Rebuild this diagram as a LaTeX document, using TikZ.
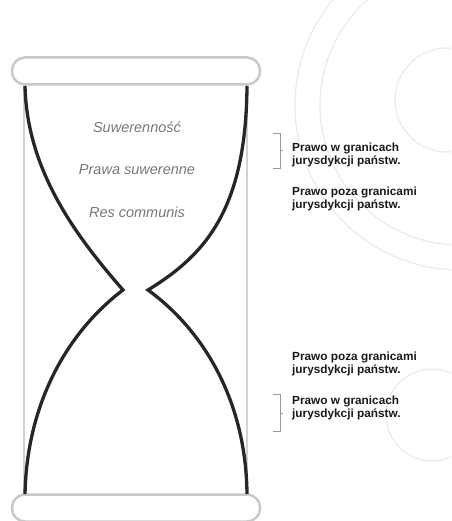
\documentclass[tikz,border=0pt]{standalone}
\usepackage{fontspec}
\setmainfont{Liberation Sans}
\usepackage{tikz}
\usetikzlibrary{
	arrows.meta,
	positioning,
	calc
}
\usepackage{xcolor}
\definecolor{capgray}{HTML}{C9C9C9}
\definecolor{framegray}{HTML}{D2D2D2}
\definecolor{glassline}{HTML}{262626}
\definecolor{textgray}{HTML}{777777}
\definecolor{ringgray}{HTML}{EBEBEB}

\tikzset{
	glasscap/.style={draw=capgray, line width=2.5pt, fill=white, rounded corners=13pt,
		minimum width=248pt, minimum height=27pt, inner sep=0pt},
	glassframe/.style={draw=framegray, line width=2pt},
	glass/.style={draw=glassline, line width=3.3pt, line join=miter},
	inside/.style={font=\fontsize{14.5}{17}\selectfont\itshape, text=textgray, inner sep=0pt},
	note/.style={font=\fontsize{11.8}{12.2}\selectfont\bfseries, text=black!90,
		align=left, anchor=west, inner sep=0pt},
	brace/.style={draw=gray!80, line width=0.8pt},
	ring/.style={draw=ringgray, line width=1.3pt}
}

\begin{document}
\begin{tikzpicture}[x=1pt,y=-1pt]
		
		\useasboundingbox (0,0) rectangle (451,521);
		
		% faint rings behind
		\begin{scope}
			\clip (0,0) rectangle (451,521);
			\draw[ring] (460,105) circle (165);
			\draw[ring] (460,105) circle (140);
			\draw[ring] (447,100) circle (52);
			\draw[ring] (432,415) circle (46);
		\end{scope}
		
		% frame of the glass
		\draw[glassframe] (24,85) -- (24,495);
		\draw[glassframe] (247,85) -- (247,495);
		
		\node[glasscap] (topcap) at (136,71) {};
		\node[glasscap] (botcap) at (136,508) {};
		
		\coordinate (lt) at (123,290);
		\coordinate (rt) at (148,290);
		
		% the glass
		\draw[glass] (25,86) .. controls (27,170) and (75,235) .. (lt)
		.. controls (70,330) and (27,400) .. (25,494);
		\draw[glass] (247,86) .. controls (246,210) and (205,255) .. (rt)
		.. controls (203,330) and (246,400) .. (247,494);
		
		\node[inside] (suw) at (137,127) {Suwerenność};
		\node[inside] (praw) at (137,170) {Prawa suwerenne};
		\node[inside] (res) at (137,212) {Res communis};
		
		\node[note] (wgr1) at (292,155) {Prawo w granicach\\jurysdykcji państw.};
		\node[note] (poza1) at (292,199) {Prawo poza granicami\\jurysdykcji państw.};
		\node[note] (poza2) at (292,364) {Prawo poza granicami\\jurysdykcji państw.};
		\node[note] (wgr2) at (292,408) {Prawo w granicach\\jurysdykcji państw.};
		
		\draw[brace] ([xshift=-19pt,yshift=22pt]wgr1.west) -- ++(7,0) -- ++(0,35) -- ++(-7,0);
		\draw[brace] ([xshift=-12pt,yshift=5pt]wgr1.west) -- ++(3,0);
		\draw[brace] ([xshift=-19pt,yshift=14pt]wgr2.west) -- ++(7,0) -- ++(0,37) -- ++(-7,0);
		\draw[brace] ([xshift=-12pt,yshift=-5pt]wgr2.west) -- ++(3,0);
		
	\end{tikzpicture}
\end{document}
